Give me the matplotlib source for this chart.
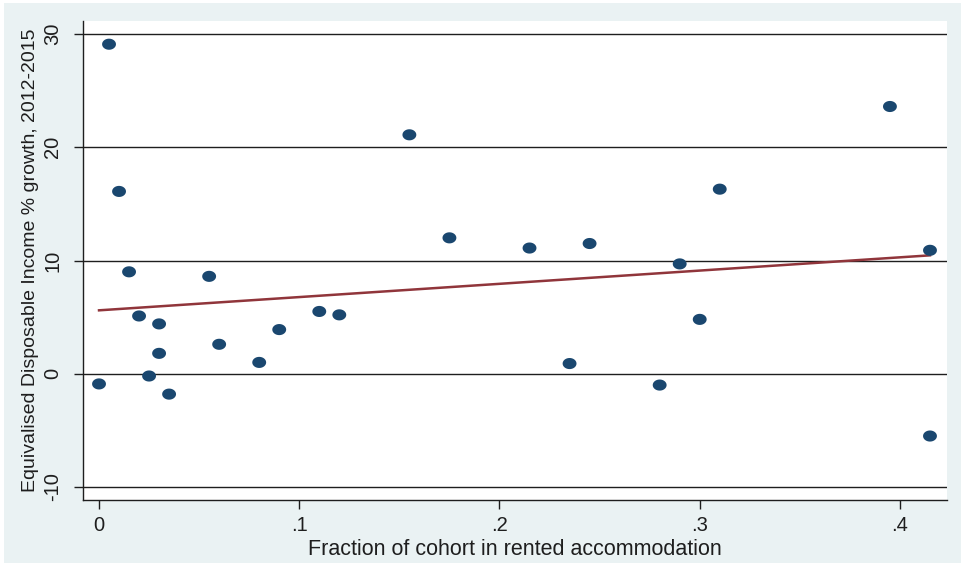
import numpy as np
import matplotlib
matplotlib.use("Agg")
import matplotlib.pyplot as plt
from matplotlib.patches import Rectangle

# Fraction of cohort in rented accommodation vs income growth
frac_rented = [0.000, 0.005, 0.010, 0.015, 0.020, 0.025, 0.030, 0.030, 0.035,
               0.055, 0.060, 0.080, 0.090, 0.110, 0.120, 0.155, 0.175, 0.215,
               0.235, 0.245, 0.280, 0.290, 0.300, 0.310, 0.395, 0.415, 0.415]
income_growth = [-0.9, 29.1, 16.1, 9.0, 5.1, -0.2, 4.4, 1.8, -1.8,
                 8.6, 2.6, 1.0, 3.9, 5.5, 5.2, 21.1, 12.0, 11.1,
                 0.9, 11.5, -1.0, 9.7, 4.8, 16.3, 23.6, 10.9, -5.5]

fit_intercept = 5.6
fit_slope = 11.7

x_ticks = [0, 0.1, 0.2, 0.3, 0.4]
x_tick_labels = ["0", ".1", ".2", ".3", ".4"]
y_ticks = [-10, 0, 10, 20, 30]

plt.rcParams['font.family'] = ['Liberation Sans', 'DejaVu Sans']

W, H = 961, 563
fig = plt.figure(figsize=(W / 100, H / 100), dpi=100, facecolor='white')
# light Stata-style background panel
fig.patches.append(Rectangle((4 / W, 0), 1, 1 - 3 / H, transform=fig.transFigure,
                             facecolor='#eaf2f3', edgecolor='none', zorder=-10))

ax = fig.add_axes([83 / W, 1 - 500 / H, (947 - 83) / W, (500 - 21) / H])
ax.set_facecolor('white')

# horizontal grid
for yv in y_ticks:
    ax.axhline(yv, color='#1e1e1e', lw=1.0, zorder=1)

x = np.array(frac_rented)
y = np.array(income_growth)
xs = np.array([x.min(), x.max()])
ax.plot(xs, fit_intercept + fit_slope * xs, color='#90353b', lw=1.8, zorder=2)

# slightly wide ellipse marker like the source
t = np.linspace(0, 2 * np.pi, 40)
ell = np.column_stack([1.25 * np.cos(t), np.sin(t)])
ax.scatter(x, y, marker=ell, s=100, color='#1a476f', edgecolors='none', zorder=3)

ax.set_xlim(-0.008, 0.4235)
ax.set_ylim(-11.15, 31.15)
ax.set_xticks(x_ticks)
ax.set_xticklabels(x_tick_labels)
ax.set_yticks(y_ticks)
ax.set_yticklabels([str(v) for v in y_ticks], rotation=90, va='center')

for s in ['top', 'right']:
    ax.spines[s].set_visible(False)
for s in ['left', 'bottom']:
    ax.spines[s].set_color('#1e1e1e')
    ax.spines[s].set_linewidth(1.0)

ax.tick_params(axis='both', direction='out', length=6.5, width=1.0,
               color='#1e1e1e', labelsize=14.5, labelcolor='#1e1e1e')
ax.tick_params(axis='x', pad=5)
ax.tick_params(axis='y', pad=8.5)

ax.set_xlabel('Fraction of cohort in rented accommodation', fontsize=15.5,
              color='#1e1e1e', labelpad=3)
ax.set_ylabel('Equivalised Disposable Income % growth, 2012-2015', fontsize=14,
              color='#1e1e1e', labelpad=3)

fig.savefig('out.png', dpi=100, facecolor=fig.get_facecolor())
